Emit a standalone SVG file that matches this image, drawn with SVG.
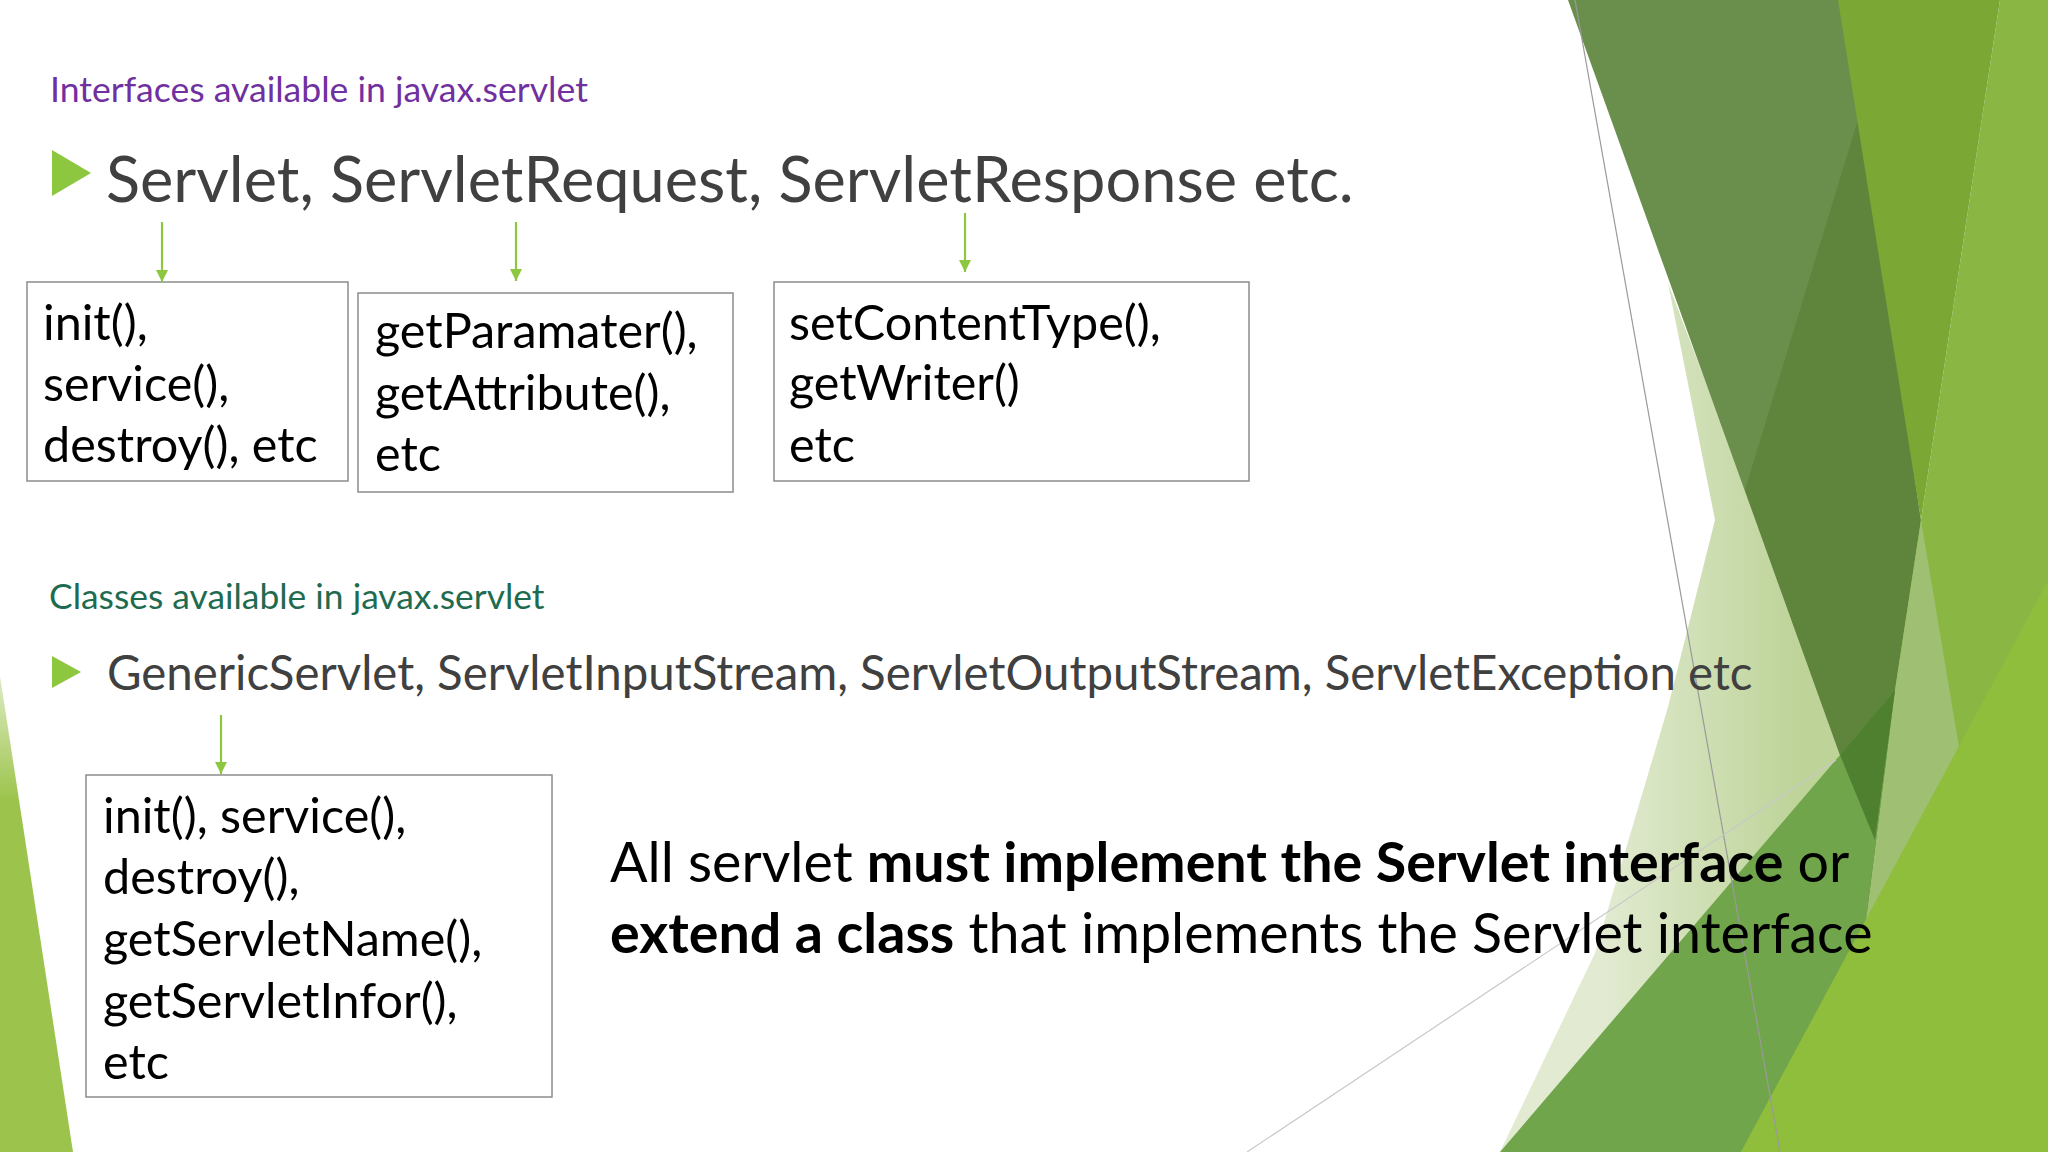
<svg xmlns="http://www.w3.org/2000/svg" width="2048" height="1152" viewBox="0 0 2048 1152">
<defs>
<style>
.t{font-family:Lato,"Noto Sans","Liberation Sans",sans-serif}
.box{fill:#ffffff;stroke:#8c8c8c;stroke-width:1.5}
.bt{font-family:Lato,"Noto Sans","Liberation Sans",sans-serif;font-size:48.5px;fill:#000}
.con{stroke:#8dc63f;stroke-width:2.2;fill:none;marker-end:url(#ah)}
.bul{fill:#8dc63f}
</style>
<marker id="ah" viewBox="0 0 12 12" refX="12" refY="6" markerWidth="12" markerHeight="12" markerUnits="userSpaceOnUse" orient="auto">
<path d="M0,0 L12,6 L0,12 Z" fill="#8dc63f"/>
</marker>
<linearGradient id="pale" gradientUnits="userSpaceOnUse" x1="1600" y1="0" x2="1800" y2="0">
<stop offset="0" stop-color="#e2ebd2"/>
<stop offset="1" stop-color="#bdd398"/>
</linearGradient>
<linearGradient id="leftg" gradientUnits="userSpaceOnUse" x1="0" y1="670" x2="0" y2="800">
<stop offset="0" stop-color="#9cc44c" stop-opacity="0.3"/>
<stop offset="1" stop-color="#9cc44c"/>
</linearGradient>
</defs>
<rect width="2048" height="1152" fill="#ffffff"/>
<g id="background">
<polygon points="0,676 73,1152 0,1152" fill="url(#leftg)"/>
<polygon points="2000,0 2048,0 2048,1152 1741,1152 1921,520" fill="#8ab644"/>
<polygon points="1668,283 1715,520 1668,707 1595,953 1500,1152 1640,1152 1840,755 1758,520" fill="url(#pale)"/>
<polygon points="1568,0 1900,0 1840,755" fill="#6a8e4b"/>
<polygon points="1861,110 1921,520 1895,690 1868,913 1840,755 1745,490" fill="#5e853b"/>
<polygon points="1838,0 2000,0 1921,520" fill="#7ba735"/>
<polygon points="1921,520 1960,753 1866,920 1895,690" fill="#9fbf72"/>
<polygon points="1500,1152 1840,755 1895,690 1866,920 1741,1152" fill="#70a54b"/>
<polygon points="1840,755 1895,690 1875,840" fill="#4f8030"/>
<polygon points="2066,547 2048,1152 1741,1152" fill="#8fbd3c"/>
<line x1="1575" y1="0" x2="1780" y2="1152" stroke="#9a9a9a" stroke-width="1.2"/>
<line x1="1836" y1="760" x2="1247" y2="1152" stroke="#c8c8c8" stroke-width="1.2"/>
</g>
<g id="title-interfaces">
<text class="t" x="50" y="102" font-size="35.6" fill="#7030a0">Interfaces available in javax.servlet</text>
</g>
<g id="bullet-interfaces">
<polygon class="bul" points="52,150 91,173 52,196"/>
<text class="t" x="106" y="202" font-size="63.1" fill="#404040">Servlet, ServletRequest, ServletResponse etc.</text>
</g>
<g id="box-servlet">
<rect class="box" x="27" y="282" width="321" height="199"/>
<text class="bt" x="43" y="340">init(),</text>
<text class="bt" x="43" y="401">service(),</text>
<text class="bt" x="43" y="462">destroy(), etc</text>
</g>
<g id="box-request">
<rect class="box" x="358" y="293" width="375" height="199"/>
<text class="bt" x="375" y="348">getParamater(),</text>
<text class="bt" x="375" y="410">getAttribute(),</text>
<text class="bt" x="375" y="471">etc</text>
</g>
<g id="box-response">
<rect class="box" x="774" y="282" width="475" height="199"/>
<text class="bt" x="789" y="340">setContentType(),</text>
<text class="bt" x="789" y="400">getWriter()</text>
<text class="bt" x="789" y="462">etc</text>
</g>
<g id="title-classes">
<text class="t" x="49" y="609" font-size="35.4" fill="#1e6b4f">Classes available in javax.servlet</text>
</g>
<g id="bullet-classes">
<polygon class="bul" points="52,656 81,672 52,688"/>
<text class="t" x="107" y="690" font-size="47.4" fill="#404040">GenericServlet, ServletInputStream, ServletOutputStream, ServletException etc</text>
</g>
<g id="box-generic">
<rect class="box" x="86" y="775" width="466" height="322"/>
<text class="bt" x="103" y="833">init(), service(),</text>
<text class="bt" x="103" y="894">destroy(),</text>
<text class="bt" x="103" y="956">getServletName(),</text>
<text class="bt" x="103" y="1018">getServletInfor(),</text>
<text class="bt" x="103" y="1079">etc</text>
</g>
<g id="statement">
<text class="t" x="610" y="882" font-size="55.6" fill="#000">All servlet <tspan font-weight="bold">must implement the Servlet interface</tspan> or</text>
<text class="t" x="610" y="953" font-size="55.6" fill="#000"><tspan font-weight="bold">extend a class</tspan> that implements the Servlet interface</text>
</g>
<g id="connectors">
<line class="con" x1="162" y1="222" x2="162" y2="282"/>
<line class="con" x1="516" y1="222" x2="516" y2="281"/>
<line class="con" x1="965" y1="213" x2="965" y2="272"/>
<line class="con" x1="221" y1="715" x2="221" y2="774"/>
</g>
</svg>
